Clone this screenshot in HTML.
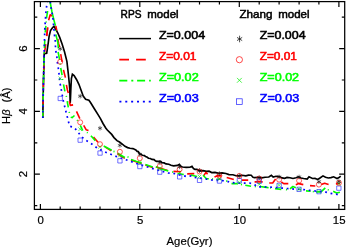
<!DOCTYPE html>
<html><head><meta charset="utf-8"><title>chart</title>
<style>
html,body{margin:0;padding:0;background:#fff;}
body{width:346px;height:249px;overflow:hidden;font-family:"Liberation Sans",sans-serif;}
svg{display:block;will-change:transform;}
text{font-family:"Liberation Sans",sans-serif;}
</style></head><body>
<svg width="346" height="249" viewBox="0 0 346 249">
<rect width="346" height="249" fill="#fff"/>
<defs><clipPath id="c"><rect x="34.4" y="1.6" width="310.3" height="207.8"/></clipPath></defs>
<g clip-path="url(#c)" fill="none" stroke-linejoin="round">
<polyline points="42.8,118.0 43.4,84.0 44.2,54.0 44.4,53.6 46.7,53.2 48.1,44.0 49.1,36.4 50.5,30.6 52.5,27.7 53.9,26.3 55.8,29.2 57.8,33.0 59.7,37.4 62.1,44.0 64.5,51.7 66.9,61.4 68.3,73.7 69.3,83.4 69.8,90.0 70.2,103.3 70.5,98.0 70.9,88.0 71.4,78.5 72.4,74.2 74.1,75.6 76.5,79.5 78.9,84.3 80.0,87.3 83.2,96.1 85.6,99.3 88.9,100.2 90.5,102.5 94.5,109.0 98.5,115.4 100.6,118.8 103.0,123.5 105.9,128.2 107.3,130.0 111.7,134.4 114.0,137.6 117.0,140.6 119.5,142.0 122.3,144.1 125.0,146.3 127.6,147.6 130.0,148.2 132.9,148.6 135.8,149.9 137.2,151.4 138.3,151.6 139.6,153.9 141.0,154.2 142.5,155.3 144.5,155.6 145.5,156.6 146.9,157.0 148.5,158.2 150.3,158.5 152.0,159.4 154.1,159.6 155.3,160.8 156.5,161.3 160.6,161.3 162.0,162.6 164.1,162.9 166.0,163.9 168.8,164.2 171.0,165.3 173.6,165.8 177.5,165.4 179.4,164.4 180.9,166.4 182.5,167.0 186.2,167.3 190.0,167.2 192.0,166.3 193.5,168.6 195.0,169.4 197.0,169.3 199.4,170.8 203.0,170.6 206.5,171.3 209.0,171.2 211.7,172.6 215.0,172.4 218.8,173.3 222.0,172.9 225.9,173.5 229.0,174.6 232.9,174.7 236.0,175.7 238.8,175.8 242.0,175.3 245.9,175.9 248.5,175.2 251.2,175.3 253.0,177.2 254.7,177.6 258.0,177.3 261.7,177.9 265.0,177.2 268.8,177.0 271.4,175.3 273.2,177.0 276.0,176.3 279.4,176.5 282.0,177.9 284.7,178.3 287.0,177.4 290.0,177.7 293.0,178.5 296.0,177.7 298.3,176.8 301.0,178.0 303.6,178.5 307.2,179.0 309.0,176.8 312.5,178.5 315.0,178.4 317.7,179.4 320.0,178.0 323.0,175.9 325.5,177.3 328.3,178.0 331.0,177.6 333.6,176.8 337.1,178.5 339.0,177.6 340.7,176.2" stroke="#000" stroke-width="1.65" stroke-linejoin="miter"/>
<polyline points="42.8,118.0 43.4,84.0 44.3,54.0 45.8,44.0 46.7,35.9 47.6,28.2 48.6,20.3" stroke="#f00" stroke-width="1.6" stroke-dasharray="9 8" stroke-dashoffset="3"/>
<polyline points="46.7,35.9 47.6,28.2" stroke="#f00" stroke-width="1.6"/>
<polyline points="48.6,20.3 50.2,14.8 52.3,16.0" stroke="#f00" stroke-width="1.6"/>
<polyline points="55.8,25.8 56.8,30.6" stroke="#f00" stroke-width="1.6"/>
<polyline points="57.8,38.8 58.7,44.0 59.7,46.9" stroke="#f00" stroke-width="1.6"/>
<polyline points="60.7,54.1 62.1,61.8" stroke="#f00" stroke-width="1.6"/>
<polyline points="63.5,69.9 65.4,77.6" stroke="#f00" stroke-width="1.6"/>
<polyline points="66.4,84.8 67.4,90.0 68.3,92.9" stroke="#f00" stroke-width="1.6"/>
<polyline points="69.3,101.1 70.3,105.4 73.1,104.9" stroke="#f00" stroke-width="1.6"/>
<polyline points="76.5,111.4 79.8,118.6" stroke="#f00" stroke-width="1.6"/>
<polyline points="83.7,125.4 86.1,129.7 88.5,130.4" stroke="#f00" stroke-width="1.6"/>
<polyline points="93.5,137.0 98.0,142.3" stroke="#f00" stroke-width="1.6"/>
<polyline points="105.0,146.8 111.3,150.9" stroke="#f00" stroke-width="1.6"/>
<polyline points="117.5,154.1 124.8,158.4" stroke="#f00" stroke-width="1.6"/>
<polyline points="131.0,160.0 136.0,161.8 141.6,163.5" stroke="#f00" stroke-width="1.6"/>
<polyline points="145.4,165.0 152.7,167.4" stroke="#f00" stroke-width="1.6"/>
<polyline points="156.0,167.0 162.0,168.8 167.6,170.5" stroke="#f00" stroke-width="1.6"/>
<polyline points="173.5,171.4 181.0,171.8" stroke="#f00" stroke-width="1.6"/>
<polyline points="187.2,173.9 194.3,173.6" stroke="#f00" stroke-width="1.6"/>
<polyline points="203.6,175.9 205.9,172.4 207.6,174.1" stroke="#f00" stroke-width="1.6"/>
<polyline points="214.5,177.0 216.9,175.9 221.5,175.9" stroke="#f00" stroke-width="1.6"/>
<polyline points="226.7,177.6 233.8,179.6" stroke="#f00" stroke-width="1.6"/>
<polyline points="241.9,180.1 248.2,180.1" stroke="#f00" stroke-width="1.6"/>
<polyline points="254.6,181.9 262.7,181.9" stroke="#f00" stroke-width="1.6"/>
<polyline points="269.2,183.0 272.7,183.0 275.6,179.0" stroke="#f00" stroke-width="1.6"/>
<polyline points="281.3,181.9 283.7,183.6 288.3,183.6" stroke="#f00" stroke-width="1.6"/>
<polyline points="295.8,184.8 298.7,183.6 303.3,184.6" stroke="#f00" stroke-width="1.6"/>
<polyline points="310.0,185.6 315.3,186.0" stroke="#f00" stroke-width="1.6"/>
<polyline points="321.3,184.6 324.6,183.3 328.6,184.6" stroke="#f00" stroke-width="1.6"/>
<polyline points="335.9,184.0 340.0,183.2" stroke="#f00" stroke-width="1.6"/>
<polyline points="42.8,118.0 43.4,84.0 44.2,54.0 44.6,44.0 44.9,38.0" stroke="#0f0" stroke-width="1.6" stroke-dasharray="8 4 1.5 4"/>
<polyline points="45.2,32.5 45.9,25.8" stroke="#0f0" stroke-width="1.6"/>
<polyline points="46.2,22.6 46.2,21.6" stroke="#0f0" stroke-width="1.6"/>
<polyline points="46.5,18.3 47.6,11.0" stroke="#0f0" stroke-width="1.6"/>
<polyline points="50.0,1.5 52.0,12.0 53.9,20.0 55.4,25.8" stroke="#0f0" stroke-width="1.6"/>
<polyline points="55.5,30.1 55.6,31.1" stroke="#0f0" stroke-width="1.6"/>
<polyline points="55.8,34.5 57.8,42.2 58.4,48.3" stroke="#0f0" stroke-width="1.6"/>
<polyline points="58.1,52.0 59.6,59.6" stroke="#0f0" stroke-width="1.6"/>
<polyline points="60.2,63.5 60.3,64.5" stroke="#0f0" stroke-width="1.6"/>
<polyline points="60.7,68.0 62.1,75.2" stroke="#0f0" stroke-width="1.6"/>
<polyline points="62.5,79.0 62.6,80.0" stroke="#0f0" stroke-width="1.6"/>
<polyline points="63.5,84.3 64.9,91.4" stroke="#0f0" stroke-width="1.6"/>
<polyline points="66.3,95.8 66.5,96.8" stroke="#0f0" stroke-width="1.6"/>
<polyline points="67.2,101.1 68.3,107.4" stroke="#0f0" stroke-width="1.6"/>
<polyline points="69.2,111.8 69.4,112.8" stroke="#0f0" stroke-width="1.6"/>
<polyline points="70.7,117.2 72.1,117.6 74.5,115.5" stroke="#0f0" stroke-width="1.6"/>
<polyline points="77.1,119.9 77.7,120.7" stroke="#0f0" stroke-width="1.6"/>
<polyline points="80.3,125.4 82.7,130.7" stroke="#0f0" stroke-width="1.6"/>
<polyline points="86.9,132.3 87.7,132.9" stroke="#0f0" stroke-width="1.6"/>
<polyline points="90.9,135.8 95.3,140.6" stroke="#0f0" stroke-width="1.6"/>
<polyline points="103.7,146.0 111.7,150.2" stroke="#0f0" stroke-width="1.6"/>
<polyline points="113.5,151.4 114.5,151.6" stroke="#0f0" stroke-width="1.6"/>
<polyline points="117.5,153.3 124.8,157.5" stroke="#0f0" stroke-width="1.6"/>
<polyline points="127.5,156.9 128.5,157.1" stroke="#0f0" stroke-width="1.6"/>
<polyline points="131.0,159.5 136.0,161.2 141.6,162.9" stroke="#0f0" stroke-width="1.6"/>
<polyline points="145.4,164.6 152.7,167.0" stroke="#0f0" stroke-width="1.6"/>
<polyline points="155.8,166.8 162.0,169.2 168.3,171.1" stroke="#0f0" stroke-width="1.6"/>
<polyline points="172.2,171.9 173.2,172.1" stroke="#0f0" stroke-width="1.6"/>
<polyline points="177.5,173.5 183.8,174.5" stroke="#0f0" stroke-width="1.6"/>
<polyline points="190.7,175.0 197.2,176.5" stroke="#0f0" stroke-width="1.6"/>
<polyline points="203.0,175.3 206.5,178.8 208.8,178.8" stroke="#0f0" stroke-width="1.6"/>
<polyline points="212.0,178.9 213.0,179.1" stroke="#0f0" stroke-width="1.6"/>
<polyline points="216.3,179.3 220.9,179.3" stroke="#0f0" stroke-width="1.6"/>
<polyline points="226.2,180.9 227.2,181.1" stroke="#0f0" stroke-width="1.6"/>
<polyline points="231.5,183.6 237.8,183.6" stroke="#0f0" stroke-width="1.6"/>
<polyline points="241.0,184.4 242.0,184.6" stroke="#0f0" stroke-width="1.6"/>
<polyline points="245.3,185.3 251.1,186.3" stroke="#0f0" stroke-width="1.6"/>
<polyline points="254.8,186.5 255.8,186.7" stroke="#0f0" stroke-width="1.6"/>
<polyline points="259.8,186.5 266.7,187.4 268.6,187.7" stroke="#0f0" stroke-width="1.6"/>
<polyline points="270.1,187.8 271.1,188.0" stroke="#0f0" stroke-width="1.6"/>
<polyline points="275.0,188.6 281.3,189.4" stroke="#0f0" stroke-width="1.6"/>
<polyline points="286.0,189.6 287.0,189.8" stroke="#0f0" stroke-width="1.6"/>
<polyline points="290.0,188.8 292.9,186.5 295.8,187.7" stroke="#0f0" stroke-width="1.6"/>
<polyline points="300.0,189.4 301.0,189.6" stroke="#0f0" stroke-width="1.6"/>
<polyline points="306.0,190.9 310.6,191.3" stroke="#0f0" stroke-width="1.6"/>
<polyline points="312.8,191.5 313.8,191.7" stroke="#0f0" stroke-width="1.6"/>
<polyline points="316.0,191.9 321.3,191.7 325.3,187.9" stroke="#0f0" stroke-width="1.6"/>
<polyline points="327.7,189.7 328.7,189.9" stroke="#0f0" stroke-width="1.6"/>
<polyline points="333.2,191.3 336.6,193.0 339.9,192.2" stroke="#0f0" stroke-width="1.6"/>
<polyline points="42.8,118.0 43.4,84.0 44.1,54.0 44.5,39.8 44.8,29.0 45.2,23.0 45.9,12.5 46.5,7.2 47.2,1.9 48.8,-6.2 50.3,1.9 51.0,7.2 52.0,12.5 52.9,17.8 53.4,23.4 53.9,28.7 54.4,34.5 55.2,39.8 55.4,45.4 55.8,50.8 56.8,56.0 57.3,61.8 58.2,67.3 58.9,72.8 59.5,78.0 60.1,83.6 61.1,88.7 62.1,94.3 63.0,99.6 64.3,104.9 65.6,110.3 67.0,115.7 68.3,121.0 69.7,126.3 73.8,127.3 77.4,131.1 80.3,135.3 84.7,139.7 87.9,141.5 93.2,145.0 97.6,148.5 107.3,152.9 117.0,156.8 126.7,160.0 136.4,163.5 145.9,166.5 152.0,168.4 167.9,173.0 173.2,173.3 186.4,176.5 191.5,175.8 194.1,177.3 206.5,179.1 211.7,180.0 225.9,180.9 231.0,182.6 240.6,183.2 250.3,183.2 254.7,184.6 256.5,186.7 270.6,187.1 286.4,188.5 294.8,189.1 303.6,189.6 315.0,191.0 325.7,192.1 330.0,193.2 337.1,194.4 340.0,194.0" stroke="#00f" stroke-width="1.7" stroke-dasharray="1.8 3.72" />
<rect x="58.1" y="96.3" width="4.3" height="4.3" stroke="#33f" stroke-width="0.7" fill="none"/>
<path d="M58.5 76.5L62.0 80.1M58.5 80.1L62.0 76.5" stroke="#0e0" stroke-width="0.6" fill="none"/>
<circle cx="60.2" cy="61.8" r="2.5" stroke="#f00" stroke-width="0.65" fill="none"/>
<path d="M60.2 46.5V51.1M58.1 47.6L62.4 49.9M58.1 49.9L62.4 47.6" stroke="#111" stroke-width="0.6" fill="none"/>
<rect x="78.0" y="138.0" width="4.3" height="4.3" stroke="#33f" stroke-width="0.7" fill="none"/>
<path d="M78.4 127.4L82.0 131.0M78.4 131.0L82.0 127.4" stroke="#0e0" stroke-width="0.6" fill="none"/>
<circle cx="80.2" cy="122.3" r="2.5" stroke="#f00" stroke-width="0.65" fill="none"/>
<path d="M80.2 93.9V98.5M78.1 95.0L82.2 97.4M78.1 97.4L82.2 95.0" stroke="#111" stroke-width="0.6" fill="none"/>
<rect x="97.9" y="150.9" width="4.3" height="4.3" stroke="#33f" stroke-width="0.7" fill="none"/>
<path d="M98.2 145.0L101.8 148.6M98.2 148.6L101.8 145.0" stroke="#0e0" stroke-width="0.6" fill="none"/>
<circle cx="100.0" cy="144.2" r="2.5" stroke="#f00" stroke-width="0.65" fill="none"/>
<path d="M100.0 125.9V130.5M98.0 127.1L102.1 129.4M98.0 129.4L102.1 127.1" stroke="#111" stroke-width="0.6" fill="none"/>
<rect x="117.8" y="158.7" width="4.3" height="4.3" stroke="#33f" stroke-width="0.7" fill="none"/>
<path d="M118.1 153.7L121.7 157.3M118.1 157.3L121.7 153.7" stroke="#0e0" stroke-width="0.6" fill="none"/>
<circle cx="119.9" cy="151.8" r="2.5" stroke="#f00" stroke-width="0.65" fill="none"/>
<path d="M119.9 143.0V147.6M117.8 144.2L122.0 146.5M117.8 146.5L122.0 144.2" stroke="#111" stroke-width="0.6" fill="none"/>
<rect x="137.7" y="164.4" width="4.3" height="4.3" stroke="#33f" stroke-width="0.7" fill="none"/>
<path d="M138.0 160.7L141.7 164.3M138.0 164.3L141.7 160.7" stroke="#0e0" stroke-width="0.6" fill="none"/>
<circle cx="139.8" cy="158.2" r="2.5" stroke="#f00" stroke-width="0.65" fill="none"/>
<path d="M139.8 152.0V156.6M137.8 153.2L141.9 155.5M137.8 155.5L141.9 153.2" stroke="#111" stroke-width="0.6" fill="none"/>
<rect x="157.6" y="170.0" width="4.3" height="4.3" stroke="#33f" stroke-width="0.7" fill="none"/>
<path d="M157.9 166.7L161.6 170.3M157.9 170.3L161.6 166.7" stroke="#0e0" stroke-width="0.6" fill="none"/>
<circle cx="159.8" cy="166.2" r="2.5" stroke="#f00" stroke-width="0.65" fill="none"/>
<path d="M159.8 160.0V164.6M157.7 161.2L161.8 163.5M157.7 163.5L161.8 161.2" stroke="#111" stroke-width="0.6" fill="none"/>
<rect x="177.5" y="174.7" width="4.3" height="4.3" stroke="#33f" stroke-width="0.7" fill="none"/>
<path d="M177.8 170.7L181.4 174.3M177.8 174.3L181.4 170.7" stroke="#0e0" stroke-width="0.6" fill="none"/>
<circle cx="179.6" cy="169.3" r="2.5" stroke="#f00" stroke-width="0.65" fill="none"/>
<path d="M179.6 164.5V169.1M177.5 165.7L181.7 168.0M177.5 168.0L181.7 165.7" stroke="#111" stroke-width="0.6" fill="none"/>
<rect x="197.4" y="178.2" width="4.3" height="4.3" stroke="#33f" stroke-width="0.7" fill="none"/>
<path d="M197.7 174.7L201.3 178.3M197.7 178.3L201.3 174.7" stroke="#0e0" stroke-width="0.6" fill="none"/>
<circle cx="199.5" cy="171.5" r="2.5" stroke="#f00" stroke-width="0.65" fill="none"/>
<path d="M199.5 168.3V172.9M197.4 169.5L201.6 171.8M197.4 171.8L201.6 169.5" stroke="#111" stroke-width="0.6" fill="none"/>
<rect x="217.3" y="178.9" width="4.3" height="4.3" stroke="#33f" stroke-width="0.7" fill="none"/>
<path d="M217.6 177.0L221.2 180.6M217.6 180.6L221.2 177.0" stroke="#0e0" stroke-width="0.6" fill="none"/>
<circle cx="219.4" cy="175.6" r="2.5" stroke="#f00" stroke-width="0.65" fill="none"/>
<path d="M219.4 171.3V175.9M217.3 172.5L221.5 174.8M217.3 174.8L221.5 172.5" stroke="#111" stroke-width="0.6" fill="none"/>
<rect x="237.2" y="178.5" width="4.3" height="4.3" stroke="#33f" stroke-width="0.7" fill="none"/>
<path d="M237.5 180.7L241.2 184.3M237.5 184.3L241.2 180.7" stroke="#0e0" stroke-width="0.6" fill="none"/>
<circle cx="239.3" cy="175.9" r="2.5" stroke="#f00" stroke-width="0.65" fill="none"/>
<path d="M239.3 173.5V178.1M237.2 174.7L241.4 177.0M237.2 177.0L241.4 174.7" stroke="#111" stroke-width="0.6" fill="none"/>
<rect x="257.1" y="179.2" width="4.3" height="4.3" stroke="#33f" stroke-width="0.7" fill="none"/>
<path d="M257.4 182.4L261.1 186.0M257.4 186.0L261.1 182.4" stroke="#0e0" stroke-width="0.6" fill="none"/>
<circle cx="259.2" cy="178.6" r="2.5" stroke="#f00" stroke-width="0.65" fill="none"/>
<path d="M259.2 175.5V180.1M257.1 176.7L261.4 179.0M257.1 179.0L261.4 176.7" stroke="#111" stroke-width="0.6" fill="none"/>
<rect x="277.0" y="183.2" width="4.3" height="4.3" stroke="#33f" stroke-width="0.7" fill="none"/>
<path d="M277.3 183.5L280.9 187.1M277.3 187.1L280.9 183.5" stroke="#0e0" stroke-width="0.6" fill="none"/>
<circle cx="279.1" cy="179.6" r="2.5" stroke="#f00" stroke-width="0.65" fill="none"/>
<path d="M279.1 174.7V179.3M277.0 175.8L281.2 178.2M277.0 178.2L281.2 175.8" stroke="#111" stroke-width="0.6" fill="none"/>
<rect x="296.9" y="187.2" width="4.3" height="4.3" stroke="#33f" stroke-width="0.7" fill="none"/>
<path d="M297.2 187.4L300.9 191.0M297.2 191.0L300.9 187.4" stroke="#0e0" stroke-width="0.6" fill="none"/>
<circle cx="299.1" cy="180.7" r="2.5" stroke="#f00" stroke-width="0.65" fill="none"/>
<path d="M299.1 174.7V179.3M296.9 175.8L301.2 178.2M296.9 178.2L301.2 175.8" stroke="#111" stroke-width="0.6" fill="none"/>
<rect x="316.8" y="189.5" width="4.3" height="4.3" stroke="#33f" stroke-width="0.7" fill="none"/>
<path d="M317.1 189.7L320.8 193.3M317.1 193.3L320.8 189.7" stroke="#0e0" stroke-width="0.6" fill="none"/>
<circle cx="318.9" cy="184.6" r="2.5" stroke="#f00" stroke-width="0.65" fill="none"/>
<path d="M318.9 179.3V183.9M316.8 180.5L321.1 182.8M316.8 182.8L321.1 180.5" stroke="#111" stroke-width="0.6" fill="none"/>
<rect x="336.7" y="186.0" width="4.3" height="4.3" stroke="#33f" stroke-width="0.7" fill="none"/>
<path d="M337.1 181.9L340.7 185.5M337.1 185.5L340.7 181.9" stroke="#0e0" stroke-width="0.6" fill="none"/>
<circle cx="338.9" cy="182.9" r="2.5" stroke="#f00" stroke-width="0.65" fill="none"/>
<path d="M338.9 179.3V183.9M336.8 180.5L341.0 182.8M336.8 182.8L341.0 180.5" stroke="#111" stroke-width="0.6" fill="none"/>
</g>
<rect x="34.4" y="1.6" width="310.3" height="207.8" fill="none" stroke="#000" stroke-width="1.25"/>
<path d="M40.4 209.4v-5.5M40.4 1.6v5.5M60.2 209.4v-2.9M60.2 1.6v2.9M80.2 209.4v-2.9M80.2 1.6v2.9M100.0 209.4v-2.9M100.0 1.6v2.9M119.9 209.4v-2.9M119.9 1.6v2.9M139.8 209.4v-5.5M139.8 1.6v5.5M159.8 209.4v-2.9M159.8 1.6v2.9M179.6 209.4v-2.9M179.6 1.6v2.9M199.5 209.4v-2.9M199.5 1.6v2.9M219.4 209.4v-2.9M219.4 1.6v2.9M239.3 209.4v-5.5M239.3 1.6v5.5M259.2 209.4v-2.9M259.2 1.6v2.9M279.1 209.4v-2.9M279.1 1.6v2.9M299.1 209.4v-2.9M299.1 1.6v2.9M318.9 209.4v-2.9M318.9 1.6v2.9M338.9 209.4v-5.5M338.9 1.6v5.5M34.4 205.6h2.9M344.7 205.6h-2.9M34.4 174.2h5.5M344.7 174.2h-5.5M34.4 142.8h2.9M344.7 142.8h-2.9M34.4 111.4h5.5M344.7 111.4h-5.5M34.4 80.0h2.9M344.7 80.0h-2.9M34.4 48.6h5.5M344.7 48.6h-5.5M34.4 17.2h2.9M344.7 17.2h-2.9" stroke="#000" stroke-width="1.2" fill="none"/>
<text x="40.6" y="223.7" font-size="11.4" text-anchor="middle" fill="#000" stroke="#000" stroke-width="0.2">0</text>
<text x="140.2" y="223.7" font-size="11.4" text-anchor="middle" fill="#000" stroke="#000" stroke-width="0.2">5</text>
<text x="239.7" y="223.7" font-size="11.4" text-anchor="middle" fill="#000" stroke="#000" stroke-width="0.2">10</text>
<text x="339.2" y="223.7" font-size="11.4" text-anchor="middle" fill="#000" stroke="#000" stroke-width="0.2">15</text>
<text transform="translate(26.8,174.2) rotate(-90)" font-size="11.4" text-anchor="middle" fill="#000" stroke="#000" stroke-width="0.2">2</text>
<text transform="translate(26.8,111.4) rotate(-90)" font-size="11.4" text-anchor="middle" fill="#000" stroke="#000" stroke-width="0.2">4</text>
<text transform="translate(26.8,48.6) rotate(-90)" font-size="11.4" text-anchor="middle" fill="#000" stroke="#000" stroke-width="0.2">6</text>
<text transform="translate(10.4,123.9) rotate(-90)" font-size="11" fill="#000" stroke="#000" stroke-width="0.2" textLength="14.4" lengthAdjust="spacingAndGlyphs">H<tspan font-style="italic">&#946;</tspan></text>
<text transform="translate(10.4,102.4) rotate(-90)" font-size="11" fill="#000" stroke="#000" stroke-width="0.2" textLength="14.8" lengthAdjust="spacingAndGlyphs">(&#197;)</text>
<text x="189.5" y="245.0" font-size="11" text-anchor="middle" fill="#000" stroke="#000" stroke-width="0.2" textLength="45.8" lengthAdjust="spacingAndGlyphs">Age(Gyr)</text>
<text x="120.6" y="17.8" font-size="11" fill="#000" textLength="20.9" lengthAdjust="spacingAndGlyphs" stroke="#000" stroke-width="0.5">RPS</text>
<text x="147.3" y="17.8" font-size="11" fill="#000" textLength="31.3" lengthAdjust="spacingAndGlyphs" stroke="#000" stroke-width="0.5">model</text>
<text x="239.5" y="17.8" font-size="11" fill="#000" textLength="33" lengthAdjust="spacingAndGlyphs" stroke="#000" stroke-width="0.5">Zhang</text>
<text x="278.2" y="17.8" font-size="11" fill="#000" textLength="31.4" lengthAdjust="spacingAndGlyphs" stroke="#000" stroke-width="0.5">model</text>
<text x="158.9" y="39.1" font-size="11" fill="#000" stroke="#000" stroke-width="0.55" textLength="46.2" lengthAdjust="spacingAndGlyphs">Z=0.004</text>
<text x="259.7" y="39.1" font-size="11" fill="#000" stroke="#000" stroke-width="0.55" textLength="45.9" lengthAdjust="spacingAndGlyphs">Z=0.004</text>
<text x="158.9" y="60.1" font-size="11" fill="#f00" stroke="#f00" stroke-width="0.55" textLength="37.6" lengthAdjust="spacingAndGlyphs">Z=0.01</text>
<text x="259.7" y="60.1" font-size="11" fill="#f00" stroke="#f00" stroke-width="0.55" textLength="37.3" lengthAdjust="spacingAndGlyphs">Z=0.01</text>
<text x="158.9" y="81.35" font-size="11" fill="#0f0" stroke="#0f0" stroke-width="0.55" textLength="39.8" lengthAdjust="spacingAndGlyphs">Z=0.02</text>
<text x="259.7" y="81.35" font-size="11" fill="#0f0" stroke="#0f0" stroke-width="0.55" textLength="39.4" lengthAdjust="spacingAndGlyphs">Z=0.02</text>
<text x="158.9" y="102.05" font-size="11" fill="#00f" stroke="#00f" stroke-width="0.55" textLength="39.8" lengthAdjust="spacingAndGlyphs">Z=0.03</text>
<text x="259.7" y="102.05" font-size="11" fill="#00f" stroke="#00f" stroke-width="0.55" textLength="39.6" lengthAdjust="spacingAndGlyphs">Z=0.03</text>
<path d="M119.2 38.6H151" stroke="#000" stroke-width="1.5"/>
<path d="M119.3 59.6H150.8" stroke="#f00" stroke-width="1.6" stroke-dasharray="9.7 7.1"/>
<path d="M119.3 80.7H150.8" stroke="#0f0" stroke-width="1.7" stroke-dasharray="8 4 2 3.8"/>
<path d="M119.4 101.6H150.8" stroke="#00f" stroke-width="1.9" stroke-dasharray="2 3.87"/>
<path d="M239.6 35.7V42.3M237.0 37.4L242.2 40.6M237.0 40.6L242.2 37.4" stroke="#000" stroke-width="0.7" fill="none"/>
<circle cx="239.4" cy="59.7" r="3.1" stroke="#f00" stroke-width="0.7" fill="none"/>
<path d="M237.0 77.9L241.8 82.7M237.0 82.7L241.8 77.9" stroke="#0e0" stroke-width="0.7" fill="none"/>
<rect x="236.6" y="98.8" width="5.6" height="5.6" stroke="#22f" stroke-width="0.7" fill="none"/>
</svg></body></html>
